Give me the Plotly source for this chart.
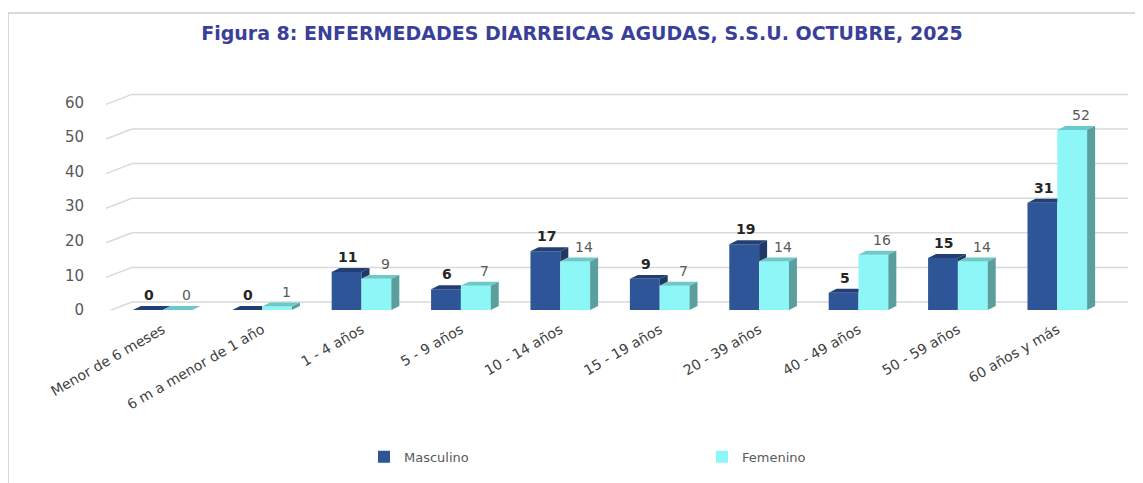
import plotly.graph_objects as go

categories = ["Menor de 6 meses", "6 m a menor de 1 año", "1 - 4 años", "5 - 9 años",
              "10 - 14 años", "15 - 19 años", "20 - 39 años", "40 - 49 años",
              "50 - 59 años", "60 años y más"]
masculino = [0, 0, 11, 6, 17, 9, 19, 5, 15, 31]
femenino = [0, 1, 9, 7, 14, 7, 14, 16, 14, 52]
y_ticks = [0, 10, 20, 30, 40, 50, 60]

TITLE = "Figura 8: ENFERMEDADES DIARREICAS AGUDAS, S.S.U. OCTUBRE, 2025"
FONT = "DejaVu Sans"
C_M, C_M_TOP, C_M_SIDE = "#2E5597", "#223F73", "#1F3866"
C_F, C_F_TOP, C_F_SIDE = "#8DF7F7", "#6CC9C9", "#5A9E9E"
GRID = "#D9D9D9"

OFF = 8                      # page body margin of the html page
W, H = 1143 - OFF, 483 - OFF
YMAX = 63
SCALE = 209 / 60             # px per unit
PLOT_L, PLOT_R, PLOT_B = 113, 1107, 311      # page coords
PLOT_T = PLOT_B - YMAX * SCALE
L = PLOT_L - OFF
R = W - (PLOT_R - OFF)
T = PLOT_T - OFF
B = H - (PLOT_B - OFF)
pw, ph = PLOT_R - PLOT_L, PLOT_B - PLOT_T

BW = 0.3                                   # bar width in category units
DX = 8 / (pw / len(categories))            # depth in category units
DY = 4 / SCALE                             # depth in value units

px = lambda p: (p - PLOT_L) / pw           # page x -> paper x
py = lambda p: (PLOT_B - p) / ph           # page y -> paper y

fig = go.Figure()
fig.add_trace(go.Bar(name="Masculino", x=categories, y=masculino,
                     marker=dict(color=C_M, line=dict(width=0))))
fig.add_trace(go.Bar(name="Femenino", x=categories, y=femenino,
                     marker=dict(color=C_F, line=dict(width=0))))

shapes = []
for v in y_ticks:
    shapes.append(dict(type="line", xref="paper", yref="y", ysizemode="pixel", yanchor=v,
                       x0=px(132), x1=px(1128), y0=8, y1=8,
                       line=dict(color=GRID, width=1.5), layer="below"))
    shapes.append(dict(type="line", xref="paper", yref="y", ysizemode="pixel", yanchor=v,
                       x0=px(106), x1=px(132), y0=-2, y1=8,
                       line=dict(color=GRID, width=1.5), layer="below"))

def poly(pts, color):
    path = "M " + " L ".join(f"{x},{y}" for x, y in pts) + " Z"
    return dict(type="path", xref="x", yref="y", path=path,
                fillcolor=color, line=dict(width=0), layer="above")

for i, (vm, vf) in enumerate(zip(masculino, femenino)):
    a = i - BW
    if vf > vm:
        shapes.append(poly([(a, vm), (i, vm), (i, vm + DY), (a + DX, vm + DY)], C_M_TOP))
    else:
        shapes.append(poly([(a, vm), (i, vm), (i + DX, vm + DY), (a + DX, vm + DY)], C_M_TOP))
        if vm > vf:
            shapes.append(poly([(i, vf), (i, vm), (i + DX, vm + DY), (i + DX, vf + DY)], C_M_SIDE))
    b = i + BW
    shapes.append(poly([(i, vf), (b, vf), (b + DX, vf + DY), (i + DX, vf + DY)], C_F_TOP))
    shapes.append(poly([(b, 0), (b, vf), (b + DX, vf + DY), (b + DX, DY)], C_F_SIDE))

# frame lines of the chart area
shapes.append(dict(type="line", xref="paper", yref="paper", x0=px(OFF), x1=px(1160),
                   y0=py(12), y1=py(12), line=dict(color=GRID, width=2)))
shapes.append(dict(type="line", xref="paper", yref="paper", x0=px(OFF), x1=px(OFF),
                   y0=py(12), y1=py(500), line=dict(color=GRID, width=2)))

annotations = []
for i, (vm, vf) in enumerate(zip(masculino, femenino)):
    annotations.append(dict(x=i - BW / 2, y=vm, xref="x", yref="y", text=str(vm),
                            showarrow=False, yanchor="bottom", yshift=5, xshift=1,
                            font=dict(family=FONT, size=14, color="#262626", weight="bold")))
    annotations.append(dict(x=i + BW / 2, y=vf, xref="x", yref="y", text=str(vf),
                            showarrow=False, yanchor="bottom", yshift=5, xshift=9,
                            font=dict(family=FONT, size=14, color="#595959")))

fig.update_layout(
    width=W, height=H,
    margin=dict(l=L, r=R, t=T, b=B),
    paper_bgcolor="white", plot_bgcolor="white",
    barmode="group", bargap=0.4, bargroupgap=0,
    title=dict(text=TITLE, x=(582 - OFF) / W, xref="container", xanchor="center",
               y=1 - (33 - OFF) / H, yref="container", yanchor="middle",
               font=dict(family=FONT, size=19, color="#3A3F9A", weight="bold")),
    xaxis=dict(type="category", range=[-0.5, len(categories) - 0.5], tickangle=-30,
               showgrid=False, showline=False, zeroline=False, ticks="",
               ticklabelstandoff=8,
               tickfont=dict(family=FONT, size=14, color="#404040")),
    yaxis=dict(range=[0, YMAX], tickvals=y_ticks, showgrid=False, zeroline=False,
               showline=False, ticks="", ticklabelstandoff=28,
               tickfont=dict(family=FONT, size=15, color="#595959")),
    legend=dict(orientation="h", x=px(364), xanchor="left",
                y=py(457), yanchor="middle",
                entrywidth=293, itemwidth=30,
                font=dict(family=FONT, size=13, color="#595959")),
    shapes=shapes, annotations=annotations,
)

fig.write_html("out.html")
